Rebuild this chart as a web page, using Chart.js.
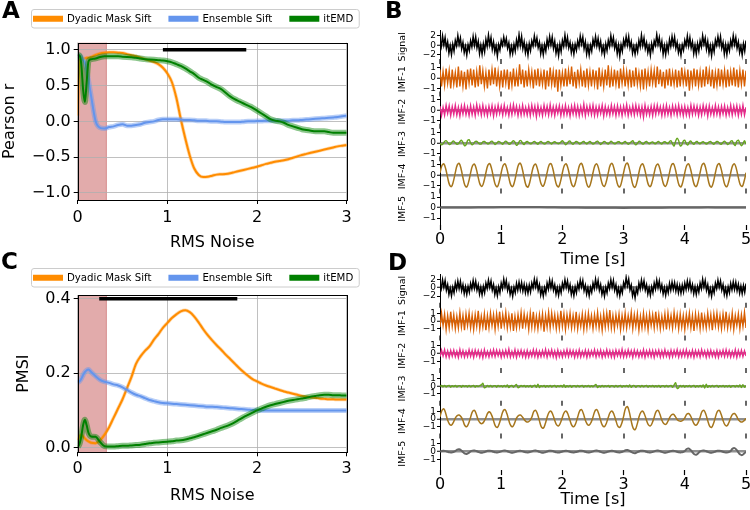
<!DOCTYPE html>
<html>
<head>
<meta charset="utf-8">
<script src="https://cdn.jsdelivr.net/npm/chart.js@4.4.1/dist/chart.umd.min.js"></script>
<style>
  body { margin: 0; background: #fff; }
  #fig { position: relative; width: 750px; height: 510px; overflow: hidden; background: #fff; }
  canvas { position: absolute; }
  .tag { position: absolute; font: bold 23px "DejaVu Sans", sans-serif; line-height: 1; color: #000; }
</style>
</head>
<body>
<div id="fig">
  <canvas id="chartA" width="375" height="255" style="left:0;top:0;width:375px;height:255px"></canvas>
  <canvas id="chartB" width="375" height="275" style="left:375px;top:0;width:375px;height:275px"></canvas>
  <canvas id="chartC" width="375" height="255" style="left:0;top:255px;width:375px;height:255px"></canvas>
  <canvas id="chartD" width="375" height="255" style="left:375px;top:255px;width:375px;height:255px"></canvas>
  <div class="tag" style="left:2px;top:-1px">A</div>
  <div class="tag" style="left:385px;top:-1px">B</div>
  <div class="tag" style="left:1px;top:250px">C</div>
  <div class="tag" style="left:388px;top:251px">D</div>
</div>
<script>
// ---- noise sweep (panels A and C) ----
const noiseLevels = [
  0, .02, .04, .06, .08, .1, .12, .15, .2, .25,
  .3, .35, .4, .45, .5, .55, .6, .65, .7, .75,
  .8, .85, .9, .95, 1, 1.05, 1.1, 1.15, 1.2, 1.25,
  1.3, 1.35, 1.4, 1.45, 1.5, 1.55, 1.6, 1.65, 1.7, 1.75,
  1.8, 1.85, 1.9, 1.95, 2, 2.05, 2.1, 2.15, 2.2, 2.25,
  2.3, 2.35, 2.4, 2.45, 2.5, 2.55, 2.6, 2.65, 2.7, 2.75,
  2.8, 2.85, 2.9, 2.95, 3
];
const noiseTicks = [0, 1, 2, 3];
const methodNames = ['Dyadic Mask Sift', 'Ensemble Sift', 'itEMD'];

const pearsonMask = [
  .08, .85, .88, .88, .88, .89, .89, .9, .93, .95,
  .96, .965, .965, .96, .955, .94, .925, .91, .89, .87,
  .85, .83, .8, .75, .67, .55, .33, .03, -.24, -.48,
  -.66, -.75, -.78, -.775, -.76, -.745, -.74, -.735, -.725, -.71,
  -.695, -.68, -.665, -.65, -.635, -.615, -.595, -.58, -.565, -.555,
  -.545, -.53, -.51, -.49, -.47, -.455, -.44, -.425, -.41, -.395,
  -.38, -.365, -.35, -.34, -.33
];
const pearsonEnsemble = [
  .92, .92, .9, .86, .82, .72, .58, .35, 0, -.09,
  -.1, -.08, -.07, -.05, -.04, -.06, -.06, -.05, -.04, -.02,
  -.01, 0, .02, .03, .03, .03, .03, .025, .02, .02,
  .015, .01, .01, .005, 0, 0, -.005, -.01, -.01, -.01,
  -.01, -.005, 0, 0, .005, .005, .01, .01, .01, .01,
  .01, .01, .015, .015, .02, .025, .03, .035, .04, .045,
  .05, .055, .06, .07, .08
];
const pearsonItEMD = [
  .93, .92, .8, .45, .27, .55, .84, .87, .88, .9,
  .91, .91, .91, .91, .905, .9, .895, .89, .88, .87,
  .865, .86, .855, .85, .84, .825, .8, .775, .74, .7,
  .66, .61, .58, .55, .51, .48, .45, .4, .35, .31,
  .28, .25, .22, .19, .15, .11, .07, .03, .01, 0,
  -.02, -.05, -.07, -.09, -.11, -.12, -.13, -.14, -.14, -.14,
  -.15, -.16, -.16, -.16, -.16
];
const pearsonTicks = [-1, -0.5, 0, 0.5, 1];
const pearsonBar = [0.95, 1.88];
const pearsonBarLevel = 1.0;

const pmsiMask = [
  .02, .03, .035, .03, .025, .02, .017, .013, .012, .02,
  .035, .055, .08, .105, .13, .16, .19, .225, .245, .26,
  .272, .29, .305, .322, .335, .348, .358, .366, .369, .364,
  .352, .336, .318, .302, .288, .275, .263, .25, .238, .226,
  .214, .203, .193, .184, .178, .172, .167, .163, .159, .155,
  .151, .148, .145, .142, .139, .137, .135, .134, .132, .131,
  .13, .13, .129, .129, .129
];
const pmsiEnsemble = [
  .175, .178, .185, .195, .203, .208, .21, .203, .192, .182,
  .177, .174, .17, .167, .162, .155, .148, .142, .138, .133,
  .128, .125, .122, .12, .119, .118, .117, .116, .115, .114,
  .113, .112, .111, .11, .11, .109, .108, .107, .106, .105,
  .104, .103, .102, .101, .101, .1, .1, .1, .1, .1,
  .1, .1, .1, .1, .1, .1, .1, .1, .1, .1,
  .1, .1, .1, .1, .1
];
const pmsiItEMD = [
  .002, .01, .03, .06, .075, .06, .04, .03, .029, .015,
  .004, .003, .003, .004, .005, .005, .006, .007, .008, .01,
  .012, .013, .014, .015, .016, .017, .019, .02, .022, .025,
  .028, .032, .036, .04, .044, .048, .053, .057, .062, .068,
  .075, .082, .088, .094, .1, .105, .11, .114, .117, .12,
  .123, .126, .128, .13, .132, .134, .137, .139, .141, .142,
  .142, .141, .141, .14, .14
];
const pmsiTicks = [0, 0.2, 0.4];
const pmsiBar = [0.24, 1.78];
const pmsiBarLevel = 0.4;

const shadedNoise = [0, 0.32];

// ---- decomposition traces (panels B and D), evenly sampled over 5 s ----
const DURATION = 5;
const timeTicks = [0, 1, 2, 3, 4, 5];
const rowNames = ['Signal', 'IMF-1', 'IMF-2', 'IMF-3', 'IMF-4', 'IMF-5'];
const signalTicks = [-2, 0, 2];
const imfTicks = [-1, 0, 1];

const signalB = [
  1.1,-.2,1.9,.1,1.6,-.6,.7,-1.6,-.1,-1.9,.2,-1.2,
  1.0,-.1,2.0,.2,1.5,-.7,.6,-1.5,-.2,-2.0,.1,-1.1,
  .9,-.3,1.8,0,1.7,-.5,.8,-1.7,0,-1.8,.3,-1.3,
  1.2,-.2,2.1,.1,1.6,-.8,.7,-1.4,-.1,-2.2,.1,-1.0,
  1.0,0,1.7,.2,1.4,-.6,.5,-1.8,-.2,-1.7,.2,-1.2,
  1.1,-.3,2.2,0,1.8,-.7,.7,-1.5,0,-2.0,.3,-1.1,
  .9,-.1,1.9,.2,1.5,-.5,.6,-1.7,-.1,-1.9,.1,-1.2,
  1.2,-.2,1.8,.1,1.7,-.6,.8,-1.6,-.2,-2.1,.2,-1.3,
  1.0,-.2,2.1,0,1.6,-.5,.6,-1.5,0,-1.8,.2,-1.0,
  .9,-.3,1.9,.3,1.7,-.7,.7,-1.8,-.1,-2.0,0,-1.2,
  1.2,0,1.8,-.1,1.4,-.6,.8,-1.5,-.2,-1.9,.3,-1.1,
  1.0,-.2,2.0,.2,1.6,-.6,.6,-1.7,0,-2.2,.1,-1.2,
  1.1,-.1,1.8,.1,1.8,-.5,.7,-1.6,-.2,-1.8,0,-1.3,
  1.0,-.3,2.1,0,1.5,-.7,.5,-1.5,-.1,-2.0,.3,-1.1,
  .9,0,2.2,.2,1.6,-.6,.8,-1.8,-.1,-1.9,.2,-1.2,
  1.2,-.2,1.8,.1,1.7,-.6,.6,-1.5,-.2,-2.0,.1,-1.0,
  1.0,-.1,1.9,-.1,1.6,-.5,.7,-1.7,0,-1.8,.3,-1.2,
  .9,-.3,2.0,.3,1.5,-.8,.8,-1.6,-.1,-2.1,.1,-1.3,
  1.1,0,1.8,.1,1.8,-.6,.6,-1.8,.1,-1.9,.2,-1.1,
  1.0,-.2,2.0,.2,1.6,-.6,.7,-1.5,-.2,-2.0,.3,-1.2,
  1.0
];
const imf1B = [
  .8,-.8,.6,-.7,.9,-.5,.7,-1,.8,-.6,.5,-.9,1.1,-.8,.7,-.8,.6,-1.1,.8,-.5,
  .9,-.7,.8,-.9,.6,-.8,1.2,-.6,.7,-.8,.5,-1,.8,-.7,.8,-.6,1,-.8,.6,-.8,
  .7,-.9,.8,-.5,.8,-1.1,.6,-.7,.9,-.8,.5,-.8,1.3,-.6,.8,-.9,.7,-.8,.8,-.5,
  .6,-1,.8,-.7,.9,-.8,.5,-.6,.8,-1.1,.7,-.8,1,-.6,.6,-.9,.8,-1.3,.8,-.7,
  .5,-.8,.9,-.8,.7,-.6,1.1,-.8,.6,-1,.8,-.5,.8,-.8,.7,-.9,.9,-.7,.6,-.8,
  .8,-.6,.7,-1.1,1,-.8,.5,-.8,.8,-.7,1.2,-.9,.6,-.8,.8,-.6,.7,-1,.9,-.5,
  .8,-.8,.6,-.7,.8,-.9,.7,-.8,1,-.6,.5,-.8,.8,-1.1,.9,-.7,.6,-.8,.8,-.5,
  .7,-.9,1.1,-.6,.8,-.8,.6,-1,.8,-.7,.9,-.8,.5,-.6,.8,-.9,.7,-.8,1,-.5,
  .6,-.8,.8,-1.2,.7,-.6,.9,-.8,.8,-.7,.6,-.9,.8,-.8,1.1,-.6,.7,-.8,.8,-1,
  .5,-.7,.9,-.8,.8,-.6,.7,-.9,.8,-.8,.6,-.7,1,-.8,.8,-.9,.7,-.6,.8,-.8,
  .7
];
const imf2B = [
  .4,-.5,.3,-.45,.5,-.3,.45,-.5,.35,-.4,.5,-.45,.3,-.55,.4,-.35,.5,-.4,.3,-.5,
  .45,-.4,.35,-.5,.55,-.3,.4,-.45,.5,-.4,.3,-.5,.4,-.35,.45,-.55,.35,-.4,.5,-.3,
  .4,-.45,.5,-.35,.3,-.5,.45,-.4,.55,-.3,.4,-.5,.35,-.45,.5,-.4,.3,-.45,.4,-.5,
  .5,-.35,.4,-.6,.45,-.4,.3,-.5,.5,-.35,.4,-.45,.55,-.4,.35,-.5,.4,-.3,.45,-.5,
  .35,-.45,.5,-.4,.3,-.55,.4,-.35,.5,-.45,.4,-.5,.35,-.4,.6,-.5,.4,-.35,.45,-.4,
  .5,-.5,.35,-.45,.4,-.3,.5,-.55,.4,-.4,.3,-.45,.5,-.35,.4,-.5,.45,-.4,.35,-.5,
  .4,-.35,.55,-.5,.3,-.4,.45,-.45,.5,-.35,.4,-.5,.35,-.65,.5,-.4,.3,-.45,.4,-.5,
  .45,-.4,.5,-.3,.35,-.5,.4,-.45,.5,-.4,.3,-.5,.45,-.35,.4,-.45,.5,-.4,.35,-.5,
  .4,-.45,.3,-.5,.5,-.4,.45,-.35,.4,-.5,.35,-.45,.5,-.3,.4,-.55,.45,-.4,.3,-.45,
  .5,-.4,.35,-.5,.4,-.35,.45,-.5,.3,-.4,.5,-.45,.4,-.35,.45,-.5,.35,-.4,.5,-.45,
  .3
];
const imf3B = [
  0,-.2,-.1,.12,.2,.04,-.16,-.12,.1,.16,0,-.14,-.1,.12,.24,.04,-.28,-.2,.2,.3,
  0,-.2,-.08,.12,.14,0,-.12,-.1,.1,.12,.02,-.1,-.08,.1,.16,0,-.16,-.06,.12,.1,
  -.04,-.14,.06,.16,.04,-.12,-.1,.08,.2,.06,-.24,-.12,.18,.2,-.04,-.16,.04,.12,.02,-.1,
  -.06,.1,.12,-.04,-.14,.04,.14,0,-.1,-.08,.1,.12,-.02,-.12,.04,.1,0,-.08,-.06,.08,
  .2,.04,-.18,-.1,.12,.16,-.04,-.14,.02,.12,.06,-.1,-.08,.08,.12,-.02,-.12,.04,.14,0,
  -.12,-.06,.1,.16,-.02,-.16,-.04,.12,.1,-.06,-.12,.06,.14,0,-.1,-.06,.08,.1,-.04,-.1,
  .04,.12,0,-.14,-.04,.1,.2,-.04,-.2,-.06,.14,.1,-.08,-.12,.06,.12,-.02,-.1,.04,.08,
  -.06,-.1,.08,.12,-.04,-.12,.06,.1,0,-.08,.12,.2,-.1,-.3,.15,.45,.2,-.3,-.22,.16,
  .25,-.1,-.2,.08,.16,-.04,-.14,.06,.12,-.02,-.1,.04,.1,0,-.12,-.04,.1,.12,-.04,-.14,
  .02,.12,.08,-.1,-.12,.06,.16,0,-.16,-.08,.14,.2,-.1,-.25,.15,.25,-.04,-.28,-.1,.2,
  -.12
];
const imf4B = [
  .23,.92,1.08,.59,-.23,-.92,-1.08,-.59,
  .24,.96,1.13,.62,-.24,-.96,-1.12,-.61,
  .22,.9,1.06,.58,-.23,-.9,-1.06,-.58,
  .23,.94,1.1,.6,-.24,-.94,-1.1,-.6,
  .23,.92,1.08,.59,-.23,-.92,-1.08,-.59,
  .24,.97,1.14,.62,-.24,-.97,-1.14,-.62,
  .22,.89,1.05,.57,-.22,-.89,-1.05,-.57,
  .24,.95,1.11,.61,-.24,-.95,-1.11,-.61,
  .23,.92,1.08,.59,-.23,-.92,-1.08,-.59,
  .24,.96,1.13,.62,-.24,-.96,-1.13,-.62,
  .23,.91,1.07,.58,-.23,-.91,-1.07,-.58,
  .24,.96,1.12,.61,-.24,-.96,-1.12,-.61,
  .24,.98,1.15,.63,-.24,-.98,-1.15,-.63,
  .23,.92,1.08,.59,-.23,-.92,-1.08,-.59,
  .22,.9,1.06,.58,-.22,-.9,-1.06,-.58,
  .24,.95,1.11,.61,-.24,-.95,-1.11,-.61,
  .23,.92,1.08,.59,-.23,-.92,-1.08,-.59,
  .24,.97,1.13,.62,-.24,-.97,-1.13,-.62,
  .23,.94,1.1,.6,-.23,-.94,-1.1,-.6,
  .23,.91,1.07,.58,-.23,-.91,-1.07,-.58,
  .23
];
const imf5B = [0,.01,.02,.03,.05,.06,.05,.04,.02,0,-.01,-.02,-.03,-.02,-.01,0,.01,.02,.02,.01,0];

const signalD = [
  1.1,-.2,1.9,.1,1.7,-.6,.7,-1.6,-.1,-1.9,.1,-1.2,
  1.1,-.4,1.6,-.2,1.5,-.7,.7,-1.4,.2,-1.6,.3,-1.1,
  1.0,-.3,1.7,-.1,1.5,-.6,.7,-1.5,.1,-1.7,.3,-1.2,
  1.1,-.2,1.8,.1,1.6,-.6,.7,-1.6,-.1,-1.9,.2,-1.2,
  1.1,-.2,2.0,.2,1.7,-.6,.7,-1.6,-.2,-2.0,.1,-1.2,
  1.0,-.6,1.3,-.5,1.2,-.8,.8,-1.2,.5,-1.3,.6,-1.0,
  1.1,-.1,2.0,.2,1.8,-.6,.7,-1.7,-.2,-2.0,0,-1.3,
  1.1,-.3,1.8,0,1.6,-.6,.7,-1.5,0,-1.8,.2,-1.2,
  1.1,-.2,1.9,.1,1.6,-.6,.7,-1.6,-.1,-1.9,.2,-1.2,
  1.0,-.3,1.8,.2,1.7,-.7,.6,-1.5,0,-1.9,.1,-1.1,
  1.1,-.2,2.0,.1,1.7,-.6,.7,-1.6,-.2,-2.0,.1,-1.2,
  1.1,-.2,1.9,.1,1.7,-.6,.7,-1.6,-.1,-1.9,.1,-1.2,
  1.2,.1,2.4,.5,2.0,-.5,.6,-1.9,-.5,-2.4,-.2,-1.3,
  1.1,-.3,1.8,0,1.6,-.6,.7,-1.5,0,-1.8,.2,-1.2,
  1.1,-.3,1.8,0,1.6,-.6,.7,-1.5,0,-1.8,.2,-1.2,
  1.0,-.6,1.3,-.4,1.2,-.8,.8,-1.2,.5,-1.3,.6,-1.0,
  1.1,-.4,1.6,-.2,1.5,-.7,.7,-1.4,.2,-1.6,.3,-1.1,
  1.1,-.2,2.0,.2,1.7,-.6,.7,-1.6,-.2,-2.0,.1,-1.2,
  1.1,-.2,1.8,.1,1.6,-.6,.7,-1.6,-.1,-1.9,.2,-1.2,
  1.0,-.5,1.4,-.4,1.3,-.7,.8,-1.3,.4,-1.4,.5,-1.1,
  1.0
];
const imf1D = [
  -.8,1,-.6,.9,-1.1,.7,-.9,1.2,-.7,.8,-1,.6,-.9,1.1,-.8,.7,-1.2,.9,-.6,1,
  -.9,.7,-1.1,.8,-.7,1.3,-1,.6,-.8,.9,-1.2,.7,-.9,1,-.6,.8,-1.1,.9,-.7,1.2,
  -1,.8,-.6,1.1,-.9,.7,-.8,1,-1.3,.6,-.9,.8,-.7,1.1,-1,.9,-.6,.7,-1.1,1,
  -.8,1.2,-.9,.6,-1,.8,-.7,.9,-1.4,.7,-.8,1.1,-.9,1,-.6,.8,-1,.7,-.9,1.3,
  -.7,.9,-1.1,.8,-.6,1,-.9,.7,-.8,1.2,-1,.6,-.7,.9,-1.1,.8,-.9,1,-.6,.7,
  -1,.8,-.7,1.1,-.9,.6,-1.2,.9,-.8,1,-.7,1.4,-.9,.7,-1,.8,-.6,.9,-1.1,.7,
  -.8,1,-.9,.7,-.6,1.1,-1,.8,-.7,.9,-1.2,.6,-.9,1,-.8,.7,-1.1,.9,-.6,.8,
  -.9,1.2,-.7,.8,-1,.6,-.8,.9,-1.1,1,-.7,.7,-.9,1.1,-.6,.8,-1,.9,-.8,.7,
  -1.1,.8,-.6,1,-.9,.7,-1.3,.9,-.7,.8,-1,1.1,-.8,.6,-.9,1,-.7,.8,-1.2,.9,
  -.6,1,-.8,.7,-1,.9,-.7,1.2,-.9,.6,-.8,1,-1.1,.7,-.6,.9,-1,.8,-.7,1.1,
  -.9
];
const imf2D = [
  -.4,.45,-.3,.5,-.45,.35,-.5,.4,-.35,.45,-.4,.3,-.5,.55,-.35,.4,-.45,.3,-.4,.5,
  -.35,.4,-.5,.45,-.3,.4,-.45,.35,-.55,.5,-.4,.3,-.45,.4,-.35,.5,-.4,.45,-.3,.4,
  -.5,.35,-.4,.45,-.35,.6,-.45,.3,-.4,.5,-.5,.4,-.3,.45,-.4,.35,-.5,.4,-.45,.3,
  -.35,.5,-.4,.45,-.5,.3,-.4,.4,-.35,.55,-.45,.4,-.3,.5,-.4,.35,-.55,.45,-.4,.3,
  -.45,.4,-.35,.5,-.4,.45,-.3,.4,-.5,.35,-.4,.5,-.45,.3,-.35,.45,-.5,.4,-.4,.35,
  -.3,.5,-.45,.4,-.35,.45,-.5,.3,-.4,.5,-.35,.4,-.45,.35,-.5,.45,-.3,.4,-.4,.55,
  -.45,.35,-.4,.5,-.3,.4,-.5,.45,-.35,.4,-.45,.3,-.4,.5,-.5,.35,-.35,.45,-.4,.4,
  -.5,.4,-.3,.45,-.45,.35,-.4,.5,-.35,.3,-.5,.45,-.4,.4,-.3,.5,-.45,.35,-.4,.45,
  -.35,.5,-.45,.3,-.4,.45,-.5,.4,-.35,.4,-.45,.5,-.3,.35,-.5,.4,-.4,.45,-.35,.3,
  -.45,.4,-.5,.35,-.3,.45,-.4,.5,-.35,.4,-.45,.3,-.4,.5,-.5,.4,-.35,.45,-.4,.35,
  -.3
];
const imf3D = [
  0,.1,-.08,.12,-.1,.05,.1,-.12,.08,-.05,.12,-.1,.05,.08,-.12,.1,-.05,.08,-.1,.12,
  -.08,.05,.1,-.12,.08,-.05,.1,.18,.38,-.2,-.12,.1,-.08,.12,-.1,.05,.08,-.12,.1,-.05,
  .08,-.1,.12,-.08,.18,-.16,.05,.1,-.12,.08,.22,-.18,-.08,.1,-.05,.12,-.1,.08,-.08,.1,
  -.12,.05,.14,-.14,.26,-.18,.08,-.05,.1,-.12,.08,-.08,.12,-.1,.05,.1,-.12,.08,-.05,.12,
  -.1,.2,-.14,.08,-.08,.1,-.12,.05,.08,-.1,.12,-.08,.05,.1,-.12,.08,-.05,.12,-.1,.08,
  -.08,.12,.22,-.18,.05,-.1,.12,-.08,.08,-.05,.1,-.12,.08,.05,-.1,.12,-.08,.05,.1,-.12,
  .08,-.05,.12,-.1,.16,-.14,.08,.1,-.12,.05,.08,-.1,.12,-.08,.05,.1,-.12,.08,-.05,.12,
  -.1,.08,-.08,.1,-.12,.05,.08,-.1,.12,-.08,.05,.1,-.14,.18,.45,-.28,-.18,.12,-.08,.1,
  -.12,.08,-.05,.12,-.1,.05,.1,-.12,.08,-.08,.12,-.1,.18,-.22,.26,-.14,.08,-.1,.12,-.08,
  .05,.1,-.12,.08,-.05,.12,-.1,.08,-.08,.1,-.12,.05,.08,-.1,.12,-.08,.18,-.18,.22,-.12,
  .05
];
const imf4D = [
  .27,1.1,1.3,.72,-.17,-.68,-.8,-.44,
  .1,.43,.5,.28,-.21,-.85,-1,-.55,
  .23,.94,1.1,.6,-.13,-.51,-.6,-.33,
  .19,.77,.9,.5,-.23,-.94,-1.1,-.6,
  .25,1.02,1.2,.66,-.21,-.85,-1,-.55,
  .1,.43,.5,.28,-.08,-.34,-.4,-.22,
  .23,.94,1.1,.6,-.25,-1.02,-1.2,-.66,
  .21,.85,1,.55,-.19,-.77,-.9,-.5,
  .21,.85,1,.55,-.21,-.85,-1,-.55,
  .25,1.02,1.2,.66,-.17,-.68,-.8,-.44,
  .25,1.02,1.2,.66,-.21,-.85,-1,-.55,
  .21,.85,1,.55,-.23,-.94,-1.1,-.6,
  .34,1.36,1.6,.88,-.29,-1.19,-1.4,-.77,
  .21,.85,1,.55,-.19,-.77,-.9,-.5,
  .23,.94,1.1,.6,-.15,-.6,-.7,-.39,
  .13,.51,.6,.33,-.06,-.26,-.3,-.17,
  .15,.6,.7,.39,-.17,-.68,-.8,-.44,
  .23,.94,1.1,.6,-.23,-.94,-1.1,-.6,
  .23,.94,1.1,.6,-.19,-.77,-.9,-.5,
  .15,.6,.7,.39,-.08,-.34,-.4,-.22,
  .05
];
const imf5D = [
  .02,.09,.1,.06,-.02,-.09,-.1,-.06,
  .06,.26,.3,.17,-.06,-.26,-.3,-.17,
  .03,.13,.15,.08,-.03,-.13,-.15,-.08,
  .02,.1,.12,.07,-.02,-.1,-.12,-.07,
  .03,.13,.15,.08,-.03,-.13,-.15,-.08,
  .02,.09,.1,.06,-.02,-.09,-.1,-.06,
  .03,.13,.15,.08,-.03,-.13,-.15,-.08,
  .02,.1,.12,.07,-.02,-.1,-.12,-.07,
  .02,.09,.1,.06,-.02,-.09,-.1,-.06,
  .02,.1,.12,.07,-.02,-.1,-.12,-.07,
  .03,.13,.15,.08,-.03,-.13,-.15,-.08,
  .02,.09,.1,.06,-.02,-.09,-.1,-.06,
  .04,.17,.2,.11,-.04,-.17,-.2,-.11,
  .02,.1,.12,.07,-.02,-.1,-.12,-.07,
  .03,.13,.15,.08,-.03,-.13,-.15,-.08,
  .02,.09,.1,.06,-.02,-.09,-.1,-.06,
  .08,.34,.4,.22,-.08,-.34,-.4,-.22,
  .03,.13,.15,.08,-.03,-.13,-.15,-.08,
  .02,.1,.12,.07,-.02,-.1,-.12,-.07,
  .09,.38,.45,.25,-.09,-.38,-.45,-.25,
  0
];

Chart.defaults.font.family = '"DejaVu Sans", sans-serif';
Chart.defaults.color = '#000';
Chart.defaults.animation = false;

const minus = s => String(s).replace('-', '\u2212');
const curve = (xs, ys) => xs.map((x, i) => ({x, y: ys[i]}));
const trace = vals => vals.map((v, i) => ({x: i * DURATION / (vals.length - 1), y: v}));

// span, frame, legend and per-row x ticks
const panelDecor = {
  id: 'panelDecor',
  beforeDraw(chart, args, o) {
    if (!o.span) return;
    const {ctx, chartArea: a} = chart;
    const x = chart.scales.x;
    const x0 = x.getPixelForValue(o.span[0]);
    const x1 = x.getPixelForValue(o.span[1]);
    ctx.save();
    ctx.fillStyle = 'rgba(178,34,34,0.38)';
    ctx.fillRect(x0, a.top, x1 - x0, a.bottom - a.top);
    ctx.strokeStyle = 'rgba(178,34,34,0.4)';
    ctx.lineWidth = 1;
    ctx.beginPath();
    ctx.moveTo(x1, a.top);
    ctx.lineTo(x1, a.bottom);
    ctx.stroke();
    ctx.restore();
  },
  afterDraw(chart, args, o) {
    const {ctx, chartArea: a} = chart;
    ctx.save();
    if (o.frame) {
      ctx.strokeStyle = '#000';
      ctx.lineWidth = 1;
      const l = Math.round(a.left) + .5, t = Math.round(a.top) + .5;
      ctx.strokeRect(l, t, Math.round(a.right) - Math.round(a.left), Math.round(a.bottom) - Math.round(a.top));
    }
    if (o.rowTicks) {
      const x = chart.scales.x;
      ctx.strokeStyle = '#000';
      ctx.lineWidth = 1.2;
      Object.values(chart.scales).filter(s => s.axis === 'y' && s.bottom < a.bottom - 1).forEach(s => {
        x.ticks.forEach(t => {
          const px = Math.round(x.getPixelForValue(t.value));
          ctx.beginPath();
          ctx.moveTo(px, s.bottom - 4);
          ctx.lineTo(px, s.bottom + 1);
          ctx.stroke();
        });
      });
    }
    if (o.legend) {
      const items = chart.data.datasets.filter(d => d.label);
      ctx.font = '10.2px "DejaVu Sans", sans-serif';
      const widths = items.map(d => ctx.measureText(d.label).width);
      let w = 2.5;
      widths.forEach((tw, i) => { w += 30 + 4 + tw + (i < items.length - 1 ? 17 : 5); });
      const L = o.legend.left, T = o.legend.top, H = 18.5;
      ctx.beginPath();
      ctx.roundRect(L + .5, T + .5, w, H, 2.5);
      ctx.fillStyle = 'rgba(255,255,255,0.85)';
      ctx.fill();
      ctx.strokeStyle = '#cccccc';
      ctx.lineWidth = 1;
      ctx.stroke();
      let x = L + 2;
      const cy = T + H / 2 + .5;
      ctx.textBaseline = 'middle';
      items.forEach((d, i) => {
        ctx.fillStyle = d.borderColor;
        ctx.fillRect(x, cy - 3, 30, 6);
        x += 34;
        ctx.fillStyle = '#000';
        ctx.fillText(d.label, x, cy + .5);
        x += widths[i] + 17;
      });
    }
    ctx.restore();
  }
};

const methodColours = ['#ff8c00', '#6495ed', '#008000'];
const bandColours = ['rgba(255,140,0,0.35)', 'rgba(100,149,237,0.45)', 'rgba(0,128,0,0.45)'];
const bandWidths = [3.5, 5, 6];

function sweepChart(id, series, bar, barLevel, yMin, yMax, yTicks, yTitle, cfg) {
  const datasets = [{
    data: bar.map(x => ({x, y: barLevel})), borderColor: '#000', borderWidth: 3.5,
    pointRadius: 0, order: 0
  }];
  series.forEach((ys, k) => {
    const pts = curve(noiseLevels, ys);
    datasets.push({label: methodNames[k], data: pts, borderColor: methodColours[k], borderWidth: 2,
      pointRadius: 0, cubicInterpolationMode: 'monotone', order: 6 - 2 * k});
    datasets.push({data: pts, borderColor: bandColours[k], borderWidth: bandWidths[k],
      pointRadius: 0, cubicInterpolationMode: 'monotone', order: 7 - 2 * k});
  });
  return new Chart(document.getElementById(id), {
    type: 'line',
    data: {datasets},
    plugins: [panelDecor],
    options: {
      responsive: false, events: [],
      layout: {padding: {left: 0, right: 28.3, top: cfg.top, bottom: 0}},
      plugins: {
        legend: {display: false}, tooltip: {enabled: false},
        panelDecor: {span: shadedNoise, frame: true, legend: {left: 31, top: cfg.legendTop}}
      },
      scales: {
        x: {
          type: 'linear', min: 0, max: 3,
          afterBuildTicks: s => { s.ticks = noiseTicks.map(v => ({value: v})); },
          afterFit: s => { s.height = cfg.xHeight; s.paddingLeft = 0; s.paddingRight = 0; },
          ticks: {font: {size: 16}, padding: cfg.xPad, maxRotation: 0, callback: v => String(v)},
          grid: {color: '#b0b0b0', lineWidth: 0.8, tickColor: '#000', tickLength: 4, tickWidth: 1},
          border: {display: false},
          title: {display: true, text: 'RMS Noise', font: {size: 16}, padding: {top: 0, bottom: cfg.titlePad}}
        },
        y: {
          type: 'linear', min: yMin, max: yMax,
          afterBuildTicks: s => { s.ticks = yTicks.map(v => ({value: v})); },
          afterFit: s => { s.width = 77.7; },
          ticks: {font: {size: 16}, padding: 3, callback: v => minus(v.toFixed(1))},
          grid: {color: '#b0b0b0', lineWidth: 0.8, tickColor: '#000', tickLength: 4, tickWidth: 1},
          border: {display: false},
          title: {display: true, text: yTitle, font: {size: 16}, padding: {top: cfg.yTitlePad, bottom: 0}}
        }
      }
    }
  });
}

const rowColours = ['#000000', '#d95f02', '#e7298a', '#66a61e', '#a6761d', '#666666'];
const rowWidths = [1.5, 1.4, 1.4, 1.4, 1.5, 2];
const rowTension = [0, 0, 0, 0.3, 0.4, 0.4];

function imfChart(id, traces, ranges, cfg) {
  const scales = {
    x: {
      type: 'linear', min: 0, max: DURATION,
      afterBuildTicks: s => { s.ticks = timeTicks.map(v => ({value: v})); },
      afterFit: s => { s.height = cfg.xHeight; s.paddingLeft = 0; s.paddingRight = 0; },
      ticks: {font: {size: 16}, padding: 0, maxRotation: 0, callback: v => String(v)},
      grid: {drawOnChartArea: false, tickColor: '#000', tickLength: 5, tickWidth: 1.2},
      border: {display: false},
      title: {display: true, text: 'Time [s]', font: {size: 16}, padding: {top: 0, bottom: cfg.titlePad}}
    }
  };
  // bottom row first so the top row ends up at the top of the stack
  for (let k = rowNames.length - 1; k >= 0; k--) {
    const tickVals = k === 0 ? signalTicks : imfTicks;
    scales['r' + k] = {
      type: 'linear', position: 'left', stack: 'rows', stackWeight: 1,
      min: ranges[k][0], max: ranges[k][1],
      afterBuildTicks: s => { s.ticks = tickVals.map(v => ({value: v})); },
      afterFit: s => { s.width = 43; },
      ticks: {font: {size: 9}, padding: 1, autoSkip: false, callback: v => minus(v)},
      grid: {
        drawOnChartArea: true,
        color: c => (c.tick && c.tick.value === 0 ? 'rgba(125,125,125,0.85)' : 'rgba(0,0,0,0)'),
        lineWidth: c => (c.tick && c.tick.value === 0 ? 2.5 : 1),
        tickColor: '#000', tickWidth: 1, tickLength: 3
      },
      border: {display: true, color: '#000', width: 1},
      title: {display: true, text: rowNames[k], font: {size: 9.5}, padding: {top: 0, bottom: 0}}
    };
  }
  const datasets = traces.map((vals, k) => ({
    data: trace(vals), yAxisID: 'r' + k, borderColor: rowColours[k], borderWidth: rowWidths[k],
    pointRadius: 0, tension: rowTension[k]
  }));
  return new Chart(document.getElementById(id), {
    type: 'line',
    data: {datasets},
    plugins: [panelDecor],
    options: {
      responsive: false, events: [],
      layout: {padding: {left: 22, right: 4, top: cfg.top, bottom: 0}},
      plugins: {legend: {display: false}, tooltip: {enabled: false}, panelDecor: {rowTicks: true}},
      scales
    }
  });
}

sweepChart('chartA', [pearsonMask, pearsonEnsemble, pearsonItEMD], pearsonBar, pearsonBarLevel,
  -1.1, 1.1, pearsonTicks, 'Pearson r',
  {top: 42.7, legendTop: 9, xHeight: 55, xPad: 4, titlePad: 2.4, yTitlePad: 0});
sweepChart('chartC', [pmsiMask, pmsiEnsemble, pmsiItEMD], pmsiBar, pmsiBarLevel,
  -0.0125, 0.41, pmsiTicks, 'PMSI',
  {top: 40, legendTop: 13, xHeight: 57.7, xPad: 3, titlePad: 4.4, yTitlePad: 14});

imfChart('chartB', [signalB, imf1B, imf2B, imf3B, imf4B, imf5B],
  [[-3.66, 3.04], [-1.66, 1.43], [-1.66, 1.43], [-1.66, 1.43], [-1.66, 1.43], [-1.66, 1.43]],
  {top: 30.6, xHeight: 50, titlePad: 6});
imfChart('chartD', [signalD, imf1D, imf2D, imf3D, imf4D, imf5D],
  [[-4.54, 3.24], [-2.4, 1.84], [-2.4, 1.84], [-2.4, 1.84], [-2.4, 1.84], [-2.4, 1.84]],
  {top: 19.1, xHeight: 39.9, titlePad: 0.4});
</script>
</body>
</html>
